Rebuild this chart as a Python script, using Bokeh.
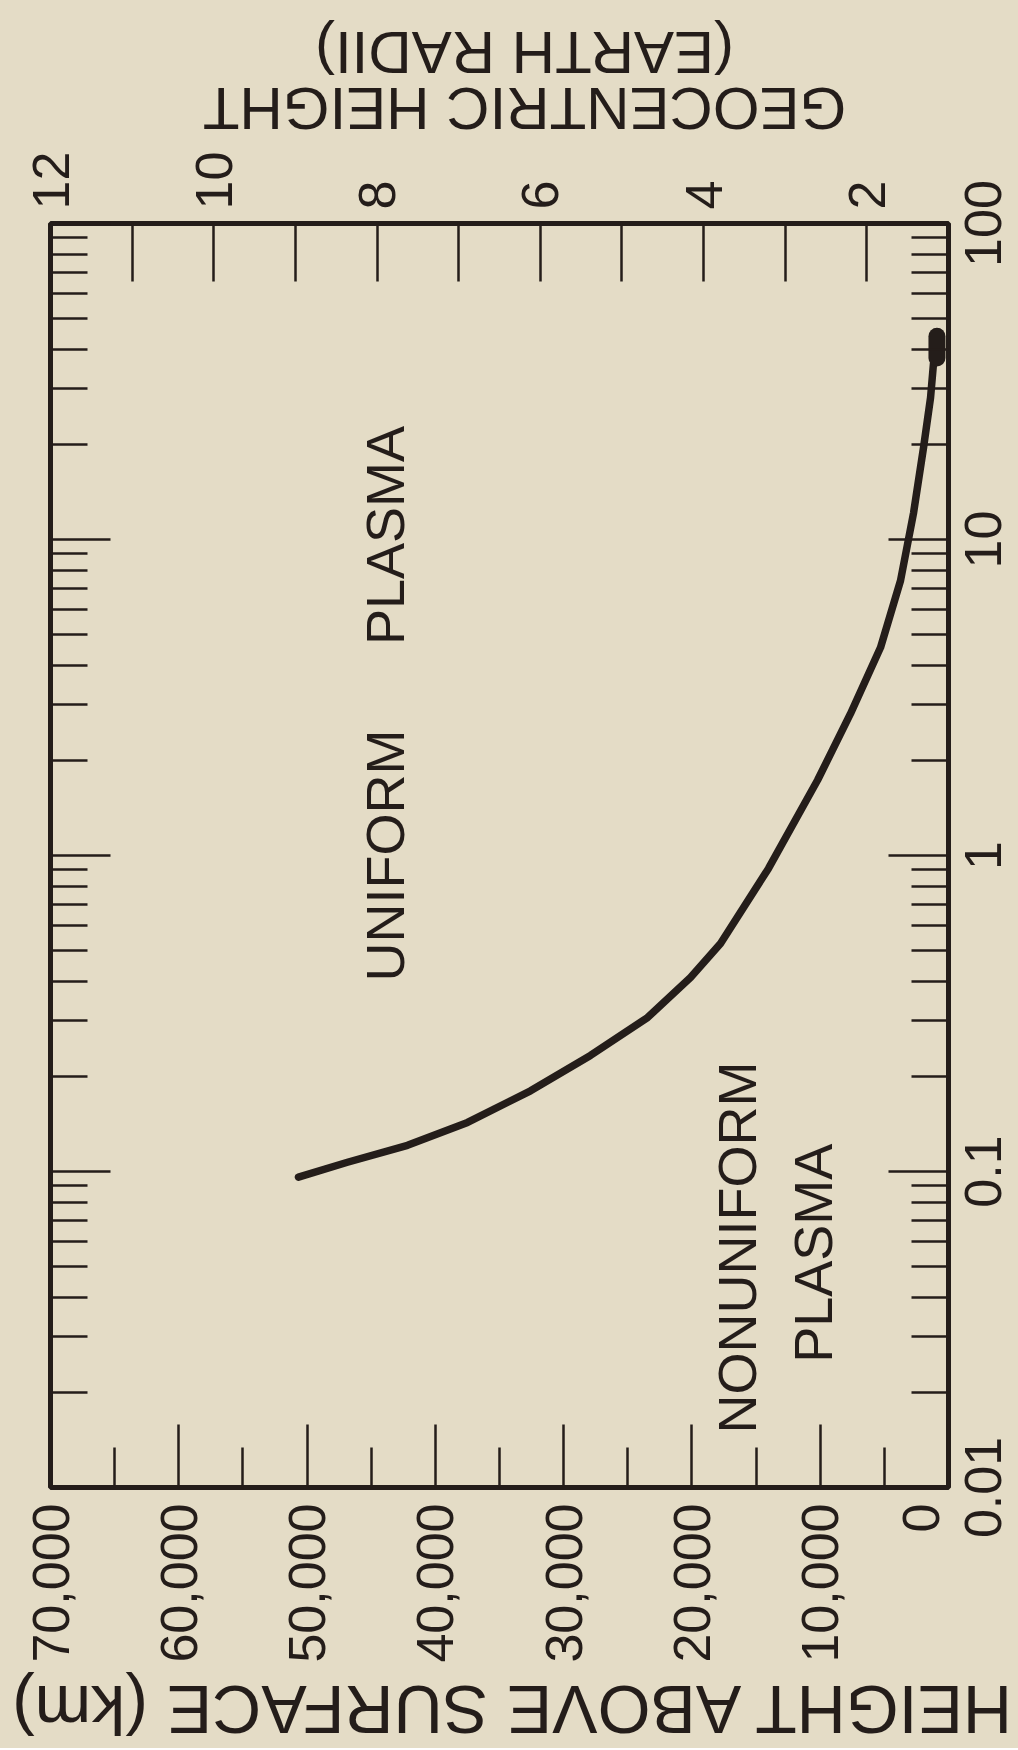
import math
from bokeh.plotting import figure
from bokeh.layouts import column, row
from bokeh.models import (Range1d, LogAxis, LinearAxis, FixedTicker,
                          NumeralTickFormatter)
from bokeh.core.properties import value
from bokeh.embed import file_html
from bokeh.resources import INLINE

# ---- data ----
height_km = [50670, 46850, 42170, 37490, 32580, 27910, 23460, 20110, 17770,
             14030, 10210, 7640, 5300, 3740, 2730, 1950, 1400, 1170]
plasma_freq = [0.096, 0.107, 0.121, 0.143, 0.180, 0.233, 0.307, 0.411, 0.527,
               0.910, 1.73, 2.81, 4.55, 7.41, 12.1, 19.5, 28.1, 36.1]
end_height_km = [900, 900]
end_freq = [37.5, 44.0]

km_major_ticks = [0, 10000, 20000, 30000, 40000, 50000, 60000, 70000]
km_tick_labels = ["0", "10,000", "20,000", "30,000", "40,000", "50,000",
                  "60,000", "70,000"]
km_minor_ticks = [5000, 15000, 25000, 35000, 45000, 55000, 65000]
log_major_ticks = [0.01, 0.1, 1.0, 10.0, 100.0]
log_tick_labels = ["0.01", "0.1", "1", "10", "100"]
log_minor_ticks = [0.02, 0.03, 0.04, 0.05, 0.06, 0.07, 0.08, 0.09,
                   0.2, 0.3, 0.4, 0.5, 0.6, 0.7, 0.8, 0.9,
                   2, 3, 4, 5, 6, 7, 8, 9,
                   20, 30, 40, 50, 60, 70, 80, 90]
radii_ticks = [2, 3, 4, 5, 6, 7, 8, 9, 10, 11, 12]
radii_labels = ["2", "", "4", "", "6", "", "8", "", "10", "", "12"]

x_title = "HEIGHT ABOVE SURFACE (km)"
top_title_lines = ["GEOCENTRIC HEIGHT", "(EARTH RADII)"]
region_labels = ["UNIFORM", "PLASMA", "NONUNIFORM", "PLASMA"]

# ---- style / layout ----
PAPER = "#e4dcc6"
INK = "#241d1a"
FONT = "Liberation Sans"
NUM_SIZE = "52px"

PAGE_W = 1018
TOP_H = 145
FRAME_W, FRAME_H = 898, 1264
BORDER_L, BORDER_R, BORDER_T, BORDER_B = 50, 4, 78, 180
MAIN_W = BORDER_L + FRAME_W + BORDER_R
MAIN_H = BORDER_T + FRAME_H + BORDER_B
SIDE_W = PAGE_W - MAIN_W
BOT_H = 1748 - TOP_H - MAIN_H

p = figure(frame_width=FRAME_W, frame_height=FRAME_H,
           x_range=Range1d(70000, 0), y_range=Range1d(0.01, 100),
           y_axis_type="log", y_axis_location="right",
           output_backend="svg", toolbar_location=None,
           min_border_left=BORDER_L, min_border_right=BORDER_R,
           min_border_top=BORDER_T, min_border_bottom=BORDER_B)
p.extra_x_ranges = {"geo": Range1d(12, 1)}
p.background_fill_color = PAPER
p.border_fill_color = PAPER
p.outline_line_color = INK
p.outline_line_width = 5
p.xgrid.visible = False
p.ygrid.visible = False


def style_axis(ax, major_in, minor_in):
    ax.axis_line_color = None
    ax.major_tick_in = major_in
    ax.major_tick_out = 0
    ax.minor_tick_in = minor_in
    ax.minor_tick_out = 0
    ax.major_tick_line_color = INK
    ax.minor_tick_line_color = INK
    ax.major_tick_line_width = 2.5
    ax.minor_tick_line_width = 2.5
    ax.major_label_text_color = INK
    ax.major_label_text_font = FONT
    ax.major_label_text_font_size = NUM_SIZE
    ax.major_label_orientation = math.pi / 2


# bottom axis (km); the "0" label is nudged off the corner as in the reference
xb = p.xaxis[0]
xb.ticker = FixedTicker(ticks=km_major_ticks, minor_ticks=km_minor_ticks)
xb.formatter = NumeralTickFormatter(format="0,0")
style_axis(xb, 63, 40)
xb.major_label_standoff = 16
xb.major_label_text_line_height = 0.05
km_overrides = dict(zip(km_major_ticks, km_tick_labels))
km_overrides[0] = km_tick_labels[0] + "\n"
xb.major_label_overrides = km_overrides

# right axis (log): ticks only, its labels are drawn by the side strip
yr = p.yaxis[0]
yr.ticker = FixedTicker(ticks=log_major_ticks, minor_ticks=log_minor_ticks)
style_axis(yr, 60, 37)
yr.major_label_overrides = {t: "" for t in log_major_ticks}
yr.major_label_text_font_size = "0px"
yr.major_label_standoff = 0

# left axis (log, no labels)
yl = LogAxis(ticker=FixedTicker(ticks=log_major_ticks, minor_ticks=log_minor_ticks))
style_axis(yl, 60, 37)
yl.major_label_overrides = {t: "" for t in log_major_ticks}
yl.major_label_text_font_size = "0px"
yl.major_label_standoff = 0
p.add_layout(yl, "left")

# top axis (earth radii)
xt = LinearAxis(x_range_name="geo",
                ticker=FixedTicker(ticks=radii_ticks, minor_ticks=[]))
style_axis(xt, 58, 0)
xt.major_label_overrides = dict(zip(radii_ticks, radii_labels))
xt.major_label_standoff = 14
p.add_layout(xt, "above")

# curve
p.line(height_km, plasma_freq, line_color=INK, line_width=7.5,
       line_cap="round", line_join="round")
p.line(end_height_km, end_freq, line_color=INK, line_width=17, line_cap="round")

# region labels
p.text(x=[43900, 43900, 16450, 10600], y=[1.0, 10.3, 0.0575, 0.0551],
       text=region_labels, angle=math.pi / 2,
       text_font=value(FONT), text_font_size="54px",
       text_align="center", text_baseline="middle", text_color=INK)


def strip(w, h, xr, yr, **kw):
    f = figure(width=w, height=h, x_range=xr, y_range=yr,
               output_backend="svg", toolbar_location=None, **kw)
    f.outline_line_color = None
    f.background_fill_color = PAPER
    f.border_fill_color = PAPER
    f.grid.visible = False
    return f


# top strip: upside-down two-line title (page pixel coordinates)
top = strip(PAGE_W, TOP_H, Range1d(0, PAGE_W), Range1d(TOP_H, 0), min_border=0,
            x_axis_location=None, y_axis_location=None)
top.text(x=[524, 524], y=[108, 52], text=top_title_lines, angle=math.pi,
         text_font=value(FONT), text_font_size="60px",
         text_align="center", text_baseline="middle", text_color=INK)

# side strip: the log-axis labels, on a left axis that shares the log range
side = strip(SIDE_W, MAIN_H, Range1d(0, 1), p.y_range,
             y_axis_type="log", y_axis_location="left", x_axis_location=None,
             min_border_left=48, min_border_right=0,
             min_border_top=BORDER_T, min_border_bottom=BORDER_B)
sa = side.yaxis[0]
sa.ticker = FixedTicker(ticks=log_major_ticks, minor_ticks=[])
sa.major_label_overrides = dict(zip(log_major_ticks, log_tick_labels))
sa.major_label_orientation = "vertical"
sa.axis_line_color = None
sa.major_tick_line_color = None
sa.minor_tick_line_color = None
sa.major_tick_in = 0
sa.major_tick_out = 0
sa.minor_tick_in = 0
sa.minor_tick_out = 0
sa.major_label_standoff = 0
sa.major_label_text_color = INK
sa.major_label_text_font = FONT
sa.major_label_text_font_size = NUM_SIZE

# bottom strip: upside-down axis title
y0 = TOP_H + MAIN_H
bottom = strip(PAGE_W, BOT_H, Range1d(0, PAGE_W), Range1d(y0 + BOT_H, y0),
               min_border=0, x_axis_location=None, y_axis_location=None)
bottom.text(x=[509], y=[1709], text=[x_title], angle=math.pi,
            text_font=value(FONT), text_font_size="68px",
            text_align="center", text_baseline="middle", text_color=INK)

layout = column(top, row(p, side, styles={"background-color": PAPER}), bottom,
                styles={"background-color": PAPER})
open("out.html", "w").write(file_html(layout, INLINE))
